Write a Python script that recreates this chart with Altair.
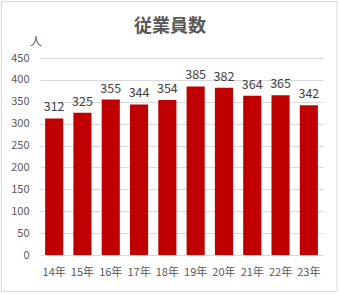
import altair as alt
import pandas as pd

years = ["14年", "15年", "16年", "17年", "18年", "19年", "20年", "21年", "22年", "23年"]
employees = [312, 325, 355, 344, 354, 385, 382, 364, 365, 342]
y_ticks = [0, 50, 100, 150, 200, 250, 300, 350, 400, 450]
title_text = ["従業員数"]
unit_text = ["人"]

FONT = "Noto Sans CJK JP"
df = pd.DataFrame({"year": years, "count": employees})

x = alt.X("year:N", sort=years, title=None,
          scale=alt.Scale(paddingInner=0.36, paddingOuter=0.18),
          axis=alt.Axis(labelAngle=0, ticks=False, domain=False, labelPadding=11,
                        labelFontSize=11, labelColor="#595959", labelFont=FONT,
                        labelOverlap=False))
y = alt.Y("count:Q", title=None,
          scale=alt.Scale(domain=[0, 450], nice=False),
          axis=alt.Axis(values=y_ticks, ticks=False, domain=False,
                        gridColor="#d9d9d9", labelPadding=11, labelFontSize=11,
                        labelColor="#595959", labelFont=FONT, labelOverlap=False,
                        labelFlush=False))

bars = alt.Chart(df).mark_bar(color="#c00000").encode(x=x, y=y)
labels = alt.Chart(df).mark_text(baseline="bottom", dy=-4, fontSize=12.5,
                                 color="#404040", font=FONT).encode(
    x=x, y=y, text="count:Q")

title = alt.Chart(pd.DataFrame({"t": title_text})).mark_text(
    fontSize=18, fontWeight="bold", color="#595959", font=FONT,
    baseline="middle", align="center").encode(
    x=alt.value(130), y=alt.value(-31), text="t:N")
unit = alt.Chart(pd.DataFrame({"t": unit_text})).mark_text(
    fontSize=12, color="#595959", font=FONT, baseline="middle", align="center").encode(
    x=alt.value(-4), y=alt.value(-16), text="t:N")
border = alt.Chart(pd.DataFrame({"a": [0]})).mark_rect(
    fill="white", fillOpacity=0, stroke="#d9d9d9", strokeWidth=1).encode(
    x=alt.value(-38.5), x2=alt.value(297), y=alt.value(-56.5), y2=alt.value(233.5))

chart = alt.layer(border, bars, labels, title, unit).properties(
    width=283, height=197,
    autosize=alt.AutoSizeParams(type="none"),
    padding={"left": 40, "top": 58, "right": 16, "bottom": 39},
    background="white",
).configure_view(stroke=None)

chart.save("out.html", embed_options={"renderer": "svg", "actions": False})
